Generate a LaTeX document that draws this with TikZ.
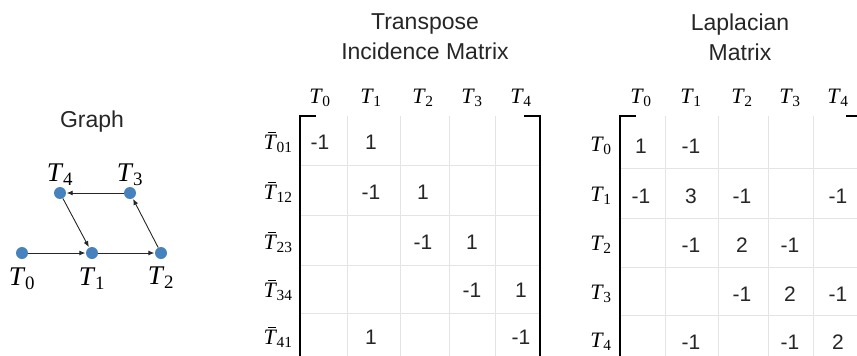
\documentclass[tikz,border=0pt]{standalone}
\usepackage{fontspec}
\setmainfont{Liberation Serif}
\setsansfont{Liberation Sans}
\usetikzlibrary{positioning,arrows.meta}
\definecolor{vertblue}{HTML}{4682BE}
\definecolor{cellgray}{HTML}{E4E4E4}
\newcommand{\Tn}[1]{\textit{T}\kern-0.5pt\textsubscript{#1}}
\newcommand{\Tb}[1]{\rlap{\kern0.2em\rule[0.74em]{0.38em}{0.05em}}\textit{T}\kern-0.5pt\textsubscript{#1}}

\begin{document}
\begin{tikzpicture}[
  x=1pt,y=-1pt,
  ttl/.style={font=\sffamily\fontsize{23}{30}\selectfont,align=center,text=black!85},
  vert/.style={circle,fill=vertblue,minimum size=12pt,inner sep=0pt},
  vlbl/.style={font=\fontsize{27}{29}\selectfont},
  colhd/.style={font=\fontsize{22}{24}\selectfont},
  cell/.style={font=\sffamily\fontsize{21}{23}\selectfont,text=black!85},
  link/.style={-{Latex[length=6pt,width=5pt]},black!85,line width=0.9pt,shorten >=0.5pt},
  cellline/.style={cellgray,line width=0.8pt},
  brk/.style={black,line width=1.8pt}
]
\useasboundingbox (0,0) rectangle (857,356);

% graph
\node[ttl] (gtitle) at (92,122) {Graph};
\node[vert] (t4) at (60,193) {};
\node[vert] (t3) at (130,193) {};
\node[vert] (t0) at (22,253) {};
\node[vert] (t1) at (92,253) {};
\node[vert] (t2) at (161,253) {};
\node[vlbl,above=-2pt of t4] (l4) {\Tn{4}};
\node[vlbl,above=-2pt of t3] (l3) {\Tn{3}};
\node[vlbl,below=5pt of t0] (l0) {\Tn{0}};
\node[vlbl,below=5pt of t1] (l1) {\Tn{1}};
\node[vlbl,below=4pt of t2] (l2) {\Tn{2}};
\draw[link] (t0) -- (t1);
\draw[link] (t1) -- (t2);
\draw[link] (t2) -- (t3);
\draw[link] (t3) -- (t4);
\draw[link] (t4) -- (t1);

% transpose incidence matrix
\node[ttl] (inctitle) at (425,37) {Transpose\\Incidence Matrix};
\foreach \x in {347,400,449,495}
  \draw[cellline] (\x,116) -- (\x,370);
\foreach \y in {165,215,265,313}
  \draw[cellline] (300,\y) -- (540,\y);
\draw[brk] (316,116) -- (300,116) -- (300,370);
\draw[brk] (524,116) -- (540,116) -- (540,370);
\foreach \i/\x in {0/320,1/371,2/423,3/472,4/521}
  \node[colhd] (inc-h\i) at (\x,98) {\Tn{\i}};
\foreach \r/\lab/\y in {1/01/142,2/12/192,3/23/242,4/34/290,5/41/337}
  \node[colhd] (inc-r\r) at (278,\y) {\Tb{\lab}};
\foreach \r/\c/\v in {1/0/-1,1/1/1,2/1/-1,2/2/1,3/2/-1,3/3/1,4/3/-1,4/4/1,5/1/1,5/4/-1}
  \node[cell] (inc-\r-\c) at (inc-h\c |- inc-r\r) {\v};

% laplacian matrix
\node[ttl] (laptitle) at (740,37) {Laplacian\\Matrix};
\foreach \x in {665,718,768,813}
  \draw[cellline] (\x,116) -- (\x,370);
\foreach \y in {168,218,267,315}
  \draw[cellline] (620,\y) -- (862,\y);
\draw[brk] (636,116) -- (620,116) -- (620,370);
\draw[brk] (846,116) -- (862,116) -- (862,370);
\foreach \i/\x in {0/641,1/691,2/742,3/790,4/838}
  \node[colhd] (lap-h\i) at (\x,98) {\Tn{\i}};
\foreach \r/\y in {0/146,1/196,2/245,3/294,4/342}
  \node[colhd] (lap-r\r) at (601,\y) {\Tn{\r}};
\foreach \r/\c/\v in {0/0/1,0/1/-1,1/0/-1,1/1/3,1/2/-1,1/4/-1,2/1/-1,2/2/2,2/3/-1,3/2/-1,3/3/2,3/4/-1,4/1/-1,4/3/-1,4/4/2}
  \node[cell] (lap-\r-\c) at (lap-h\c |- lap-r\r) {\v};
\end{tikzpicture}
\end{document}
